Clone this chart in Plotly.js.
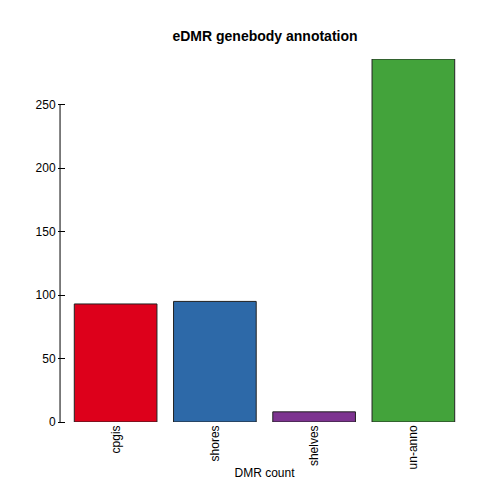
<!DOCTYPE html>
<html>
<head>
<script src="https://cdn.plot.ly/plotly-3.0.1.min.js"></script>
<style>body{margin:0}</style>
</head>
<body>
<div id="plotDiv" style="width:500px;height:500px"></div>
<script>
'use strict';

const categories = ['cpgis', 'shores', 'shelves', 'un-anno'];
const dmrCounts = [93, 95, 8, 286];
const barColors = ['#DD001B', '#2D69A8', '#7D3390', '#43A33B'];
const yTicks = [0, 50, 100, 150, 200, 250];

var data = [{
    x: categories,
    y: dmrCounts,
    type: 'bar',
    marker: {color: barColors, line: {color: '#222', width: 1}},
    hoverinfo: 'x+y'
}];

var layout = {
    width: 500,
    height: 500,
    font: {family: 'Liberation Sans, Arial', size: 12, color: '#000'},
    paper_bgcolor: '#fff',
    plot_bgcolor: '#fff',
    showlegend: false,
    bargap: 0.167,
    margin: {l: 66, r: 37, t: 59, b: 78},
    title: {text: '<b>eDMR genebody annotation</b>', x: 0.53, y: 0.938, font: {size: 14}},
    xaxis: {
        tickangle: -90,
        showline: false,
        showgrid: false,
        zeroline: false,
        ticks: '',
        title: {text: 'DMR count', standoff: 0, font: {size: 12}}
    },
    yaxis: {
        range: [0, 286],
        tickvals: yTicks,
        ticks: 'outside',
        ticklen: 7,
        tickcolor: '#000',
        showline: false,
        showgrid: false,
        zeroline: false
    },
    shapes: [{
        type: 'line', xref: 'paper', yref: 'y',
        x0: -0.015, x1: -0.015, y0: 0, y1: 250,
        line: {color: '#000', width: 1}
    }]
};

Plotly.newPlot('plotDiv', data, layout, {displayModeBar: false});
</script>
</body>
</html>
